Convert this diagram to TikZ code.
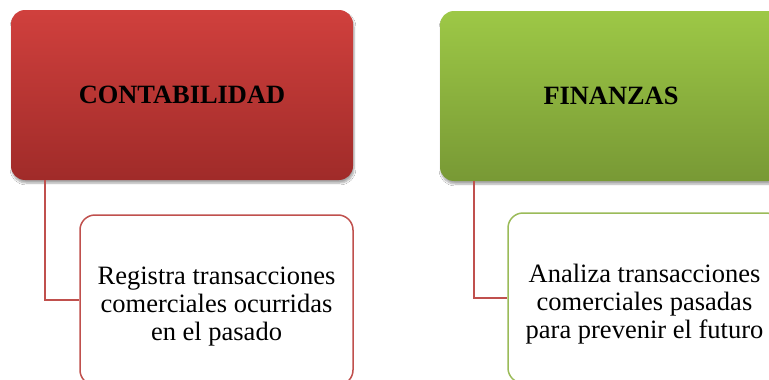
\documentclass[tikz,border=0pt]{standalone}
\usepackage{fontspec}
\setmainfont{Liberation Serif}
\usetikzlibrary{shadows.blur}
\definecolor{redtop}{HTML}{D0403D}
\definecolor{redbot}{HTML}{A02B29}
\definecolor{greentop}{HTML}{9DC846}
\definecolor{greenbot}{HTML}{789935}
\definecolor{lineRed}{HTML}{C0504D}
\definecolor{lineGreen}{HTML}{9BBB59}
\tikzset{
  parentbox/.style={rounded corners=14pt, minimum width=342pt, minimum height=170pt,
    font=\fontsize{26.4}{30}\selectfont\bfseries, text=black,
    blur shadow={shadow xshift=1pt, shadow yshift=-3pt, shadow blur steps=6, shadow opacity=35}},
  childbox/.style={rounded corners=15pt, minimum width=273pt, minimum height=170pt,
    draw, line width=1.5pt, fill=white, align=center,
    font=\fontsize{26.5}{28}\selectfont},
  conn/.style={draw=lineRed, line width=1.5pt}
}
\newcommand{\toppad}{\rule{0pt}{30pt}}
\begin{document}
\begin{tikzpicture}[x=1pt,y=-1pt]
\useasboundingbox (0,0) rectangle (769,380);
\clip (0,0) rectangle (769,380);
\fill[white] (0,0) rectangle (769,380);
\node[parentbox, top color=redtop, bottom color=redbot] (p1) at (182,95) {CONTABILIDAD};
\node[parentbox, top color=greentop, bottom color=greenbot] (p2) at (611,96) {FINANZAS};
\node[childbox, draw=lineRed] (c1) at (216.5,300) {\toppad Registra transacciones\\comerciales ocurridas\\en el pasado};
\node[childbox, draw=lineGreen] (c2) at (644.5,298) {\toppad Analiza transacciones\\comerciales pasadas\\para prevenir el futuro};
\draw[conn] ([xshift=34pt]p1.south west) |- (c1.west);
\draw[conn] ([xshift=34pt]p2.south west) |- (c2.west);
\end{tikzpicture}
\end{document}
